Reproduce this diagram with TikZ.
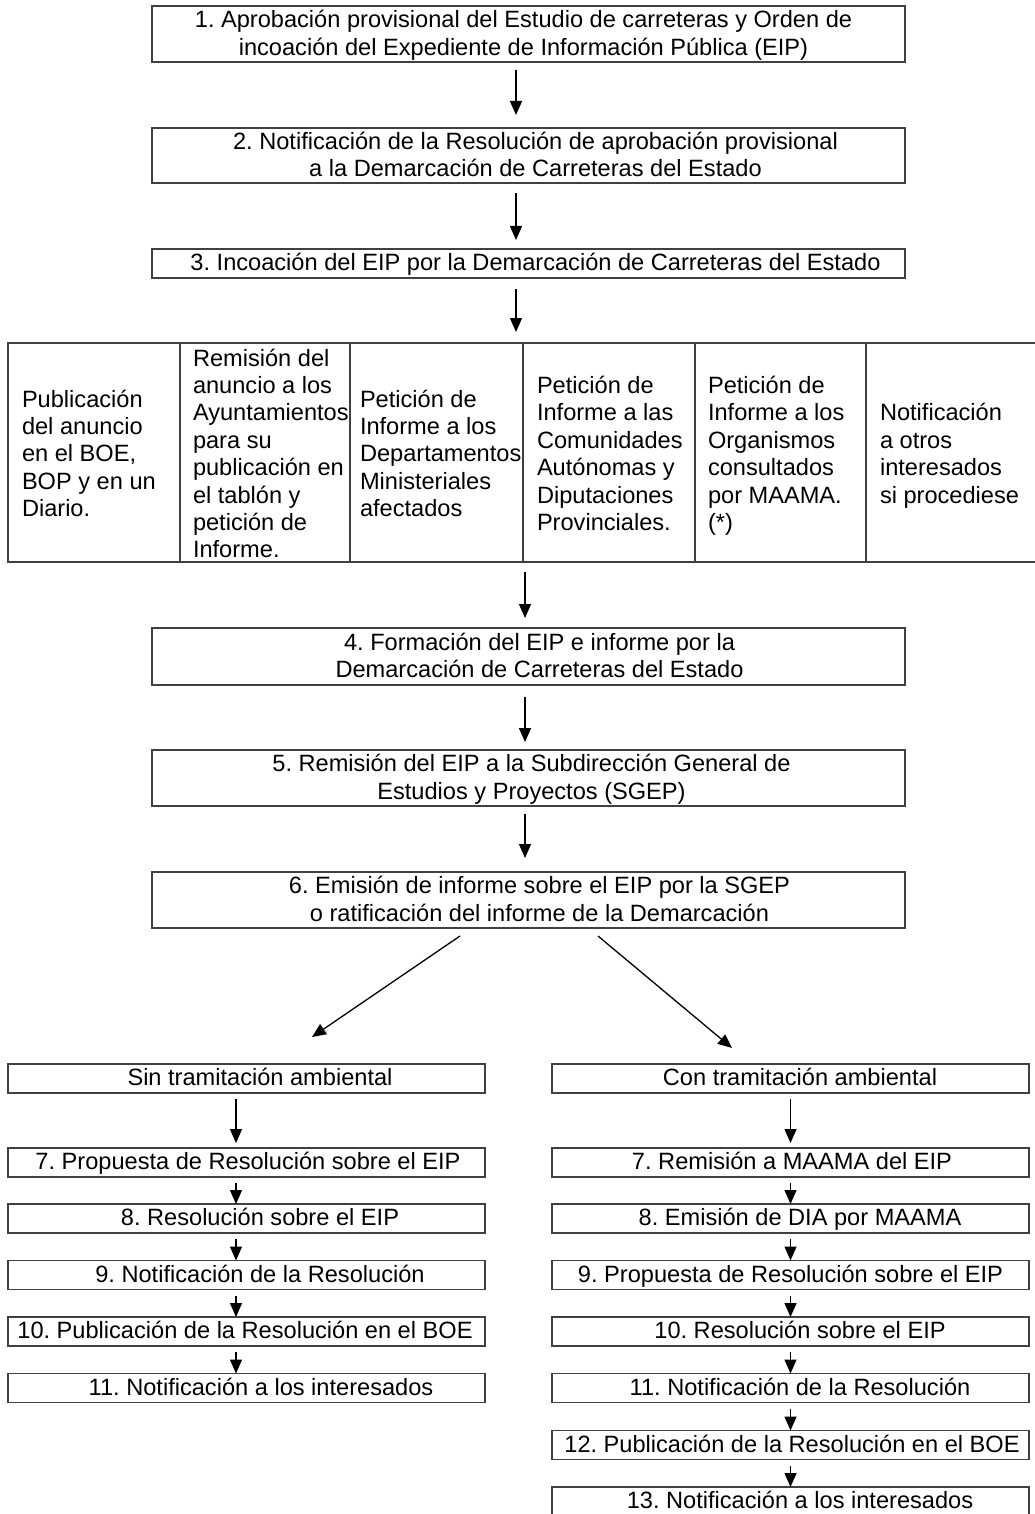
\documentclass[tikz,border=0pt]{standalone}
\usepackage{fontspec}
\setmainfont{Liberation Sans}
\usetikzlibrary{arrows.meta}
\frenchspacing
\newcommand\dnbox[2]{\raisebox{0pt}[\height][\dimexpr\depth-#1pt\relax]{#2}}
\newcommand\clines[1]{\dnbox{4}{\begin{tabular}{@{}c@{}}#1\end{tabular}}}
\newcommand\llines[1]{\dnbox{8}{\begin{tabular}{@{}l@{}}#1\end{tabular}}}
\newcommand\cell[3]{\makebox[#1pt][l]{\hspace*{#2pt}\llines{#3}}}
\begin{document}
\begin{tikzpicture}[x=1pt,y=-1pt,
  font=\fontsize{23.6pt}{27.4pt}\selectfont,
  box/.style={draw=black!75, line width=1.3pt, inner sep=0pt, outer sep=0pt, rectangle},
  wbox/.style={box, minimum width=753pt},
  lbox/.style={box, minimum width=477pt, minimum height=29pt},
  tcell/.style={box, minimum height=219pt},
  arr/.style={-{Triangle[length=14pt,width=12pt]}, line width=1.3pt, black}]
\useasboundingbox (0,0) rectangle (1035,1514);
\clip (0,0) rectangle (1035,1514);

% top chain
\node[wbox, minimum height=56pt] (b1) at (528.5,34) {\clines{1. Aprobación provisional del Estudio de carreteras y Orden de\\incoación del Expediente de Información Pública (EIP)}\hspace*{10pt}};
\node[wbox, minimum height=55pt] (b2) at (528.5,155.5) {\hspace*{14pt}\clines{2. Notificación de la Resolución de aprobación provisional\\a la Demarcación de Carreteras del Estado}};
\node[wbox, minimum height=29pt] (b3) at (528.5,263.5) {\hspace*{14pt}\clines{3. Incoación del EIP por la Demarcación de Carreteras del Estado}};

% table
\node[tcell, minimum width=172pt] (c1) at (94,452.5) {\cell{172}{14}{Publicación\\del anuncio\\en el BOE,\\BOP y en un\\Diario.}};
\node[tcell, minimum width=170pt] (c2) at (265,452.5) {\cell{170}{13}{Remisión del\\anuncio a los\\Ayuntamientos\\para su\\publicación en\\el tablón y\\petición de\\Informe.}};
\node[tcell, minimum width=173pt] (c3) at (436.5,452.5) {\cell{173}{10}{Petición de\\Informe a los\\Departamentos\\Ministeriales\\afectados}};
\node[tcell, minimum width=172pt] (c4) at (609,452.5) {\cell{172}{14}{Petición de\\Informe a las\\Comunidades\\Autónomas y\\Diputaciones\\Provinciales.}};
\node[tcell, minimum width=171pt] (c5) at (780.5,452.5) {\cell{171}{13}{Petición de\\Informe a los\\Organismos\\consultados\\por MAAMA.\\(*)}};
\node[tcell, minimum width=172pt] (c6) at (952,452.5) {\cell{172}{14}{Notificación\\a otros\\interesados\\si procediese}};

\node[wbox, minimum height=57pt] (b4) at (528.5,656.5) {\hspace*{22pt}\clines{4. Formación del EIP e informe por la\\Demarcación de Carreteras del Estado}};
\node[wbox, minimum height=56pt] (b5) at (528.5,778) {\hspace*{6pt}\clines{5. Remisión del EIP a la Subdirección General de\\Estudios y Proyectos (SGEP)}};
\node[wbox, minimum height=56pt] (b6) at (528.5,900) {\hspace*{22pt}\clines{6. Emisión de informe sobre el EIP por la SGEP\\o ratificación del informe de la Demarcación}};

% left branch
\node[lbox] (s0) at (246.5,1078.5) {\hspace*{27pt}\clines{Sin tramitación ambiental}};
\node[lbox] (s7) at (246.5,1162.5) {\hspace*{3pt}\clines{7. Propuesta de Resolución sobre el EIP}};
\node[lbox] (s8) at (246.5,1218.5) {\hspace*{27pt}\clines{8. Resolución sobre el EIP}};
\node[lbox] (s9) at (246.5,1275) {\hspace*{27pt}\clines{9. Notificación de la Resolución}};
\node[lbox] (s10) at (246.5,1331.5) {\clines{10. Publicación de la Resolución en el BOE}\hspace*{3pt}};
\node[lbox] (s11) at (246.5,1388) {\hspace*{29pt}\clines{11. Notificación a los interesados}};

% right branch
\node[lbox] (r0) at (790.5,1078.5) {\hspace*{19pt}\clines{Con tramitación ambiental}};
\node[lbox] (r7) at (790.5,1162.5) {\hspace*{3pt}\clines{7. Remisión a MAAMA del EIP}};
\node[lbox] (r8) at (790.5,1218.5) {\hspace*{19pt}\clines{8. Emisión de DIA por MAAMA}};
\node[lbox] (r9) at (790.5,1275) {\clines{9. Propuesta de Resolución sobre el EIP}};
\node[lbox] (r10) at (790.5,1331.5) {\hspace*{19pt}\clines{10. Resolución sobre el EIP}};
\node[lbox] (r11) at (790.5,1388) {\hspace*{19pt}\clines{11. Notificación de la Resolución}};
\node[lbox] (r12) at (790.5,1445) {\hspace*{3pt}\clines{12. Publicación de la Resolución en el BOE}};
\node[lbox] (r13) at (790.5,1501.5) {\hspace*{19pt}\clines{13. Notificación a los interesados}};

% arrows, top chain
\draw[arr] ([xshift=-12.5pt,yshift=-8pt]b1.south) -- ([xshift=-12.5pt,yshift=13pt]b2.north);
\draw[arr] ([xshift=-12.5pt,yshift=-10pt]b2.south) -- ([xshift=-12.5pt,yshift=9pt]b3.north);
\draw[arr] ([xshift=-12.5pt,yshift=-11pt]b3.south) -- ([xshift=-7pt,yshift=11pt]c3.north east);
\draw[arr] ([xshift=2pt,yshift=-10pt]c4.south west) -- ([xshift=-3.5pt,yshift=10pt]b4.north);
\draw[arr] ([xshift=-3.5pt,yshift=-12pt]b4.south) -- ([xshift=-3.5pt,yshift=8pt]b5.north);
\draw[arr] ([xshift=-3.5pt,yshift=-8pt]b5.south) -- ([xshift=-3.5pt,yshift=14pt]b6.north);
\draw[arr] ([xshift=-68.5pt,yshift=-8pt]b6.south) -- ([xshift=65.5pt,yshift=27pt]s0.north);
\draw[arr] ([xshift=69.5pt,yshift=-8pt]b6.south) -- ([xshift=-58.5pt,yshift=16pt]r0.north);

% arrows, left branch
\draw[arr] ([xshift=-10.5pt,yshift=-6pt]s0.south) -- ([xshift=-10.5pt,yshift=5pt]s7.north);
\foreach \a/\b in {s7/s8,s8/s9,s9/s10,s10/s11}
  \draw[arr] ([xshift=-10.5pt,yshift=-6pt]\a.south) -- ([xshift=-10.5pt]\b.north);

% arrows, right branch
\draw[arr] ([yshift=-6pt]r0.south) -- ([yshift=5pt]r7.north);
\foreach \a/\b in {r7/r8,r8/r9,r9/r10,r10/r11,r11/r12,r12/r13}
  \draw[arr] ([yshift=-6pt]\a.south) -- (\b.north);
\end{tikzpicture}
\end{document}
